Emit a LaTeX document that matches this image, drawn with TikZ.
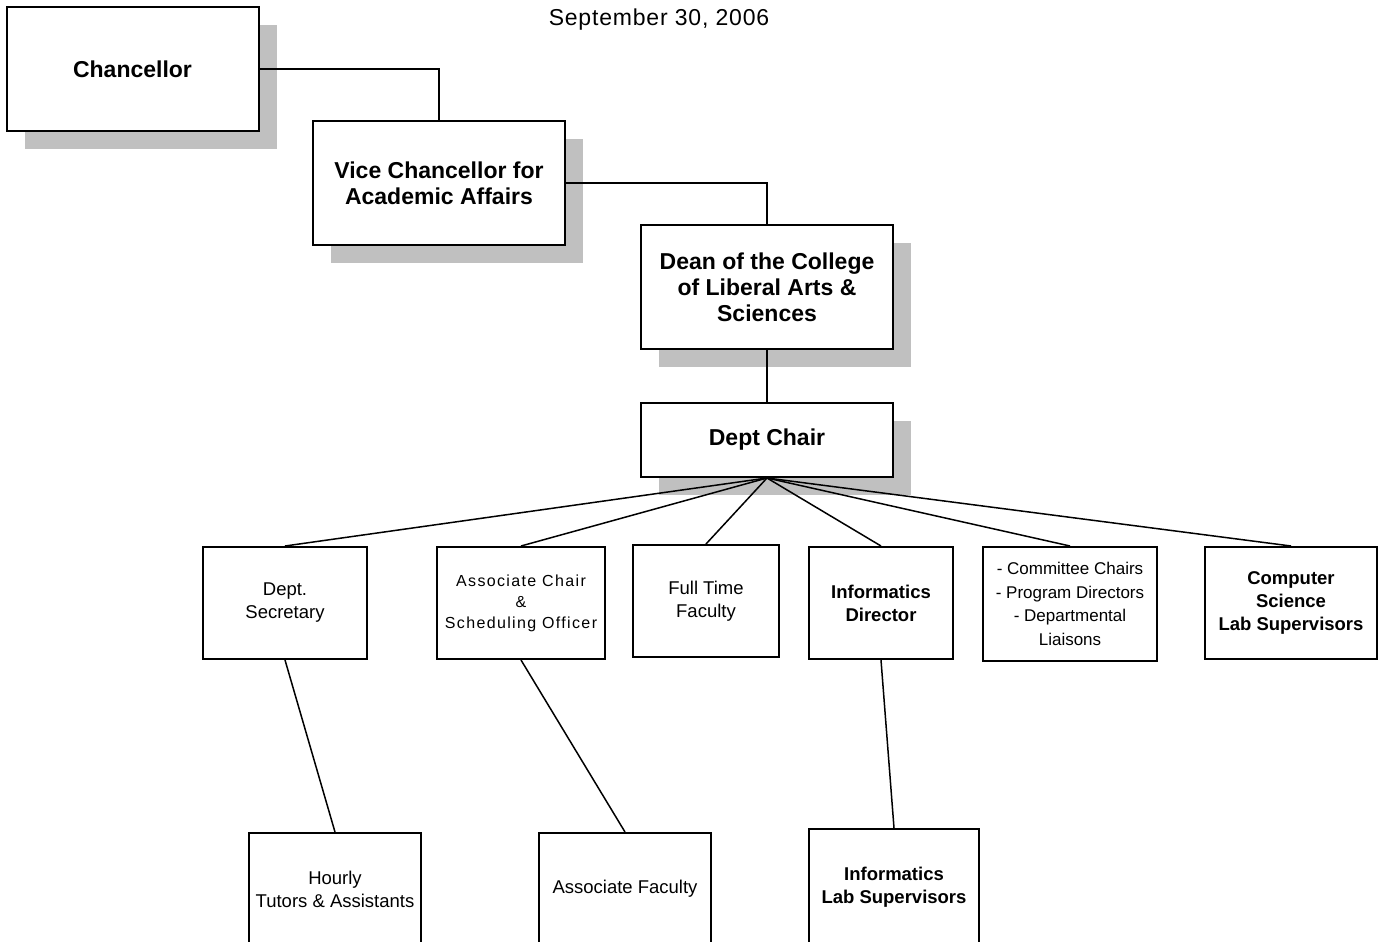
\documentclass[tikz,border=0pt]{standalone}
\usepackage{fontspec}
\setmainfont{Liberation Sans}
\usetikzlibrary{shadows}
\definecolor{shadegray}{HTML}{C0C0C0}

\begin{document}
\begin{tikzpicture}[x=0.5pt,y=-0.5pt]
\tikzset{box/.style = {draw, line width=1pt, fill=white, align=center, inner sep=0pt},
  head/.style = {box, minimum width=126pt, font=\fontsize{11.5}{13}\selectfont\bfseries,
    drop shadow={shadow xshift=9pt, shadow yshift=-9pt, fill=shadegray, opacity=1}},
  unit/.style = {box, minimum height=56pt, font=\fontsize{9.25}{11.5}\selectfont},
  unitbf/.style = {unit, font=\fontsize{9.25}{11.5}\selectfont\bfseries},
  edge/.style = {line width=0.75pt}}
\useasboundingbox (0,0) rectangle (1382,942);

\node (date) at (659,20) {\fontsize{11.5}{13}\selectfont\addfontfeature{LetterSpace=3.5}September 30, 2006};

\node[head, minimum height=62pt] (chan) at (132.5,69) {Chancellor};
\node[head, minimum height=62pt] (vc) at (439,183) {Vice Chancellor for\\Academic Affairs};
\node[head, minimum height=62pt] (dean) at (767,287) {Dean of the College\\ of Liberal Arts \&\\Sciences};
\node[head, minimum height=37pt] (chair) at (767,440) {Dept Chair};

\node[unit, minimum width=82pt] (sec) at (285,603) {Dept.\\Secretary};
\node[unit, minimum width=84pt, font=\fontsize{8}{10.5}\selectfont\addfontfeature{LetterSpace=8.5}] (assoc) at (521,603) {Associate Chair\\\&\\Scheduling Officer};
\node[unit, minimum width=73pt] (full) at (706,601) {Full Time\\Faculty};
\node[unitbf, minimum width=72pt] (infodir) at (881,603) {Informatics\\Director};
\node[unit, minimum width=87pt, minimum height=57pt, font=\fontsize{8.5}{11.75}\selectfont] (comm) at (1070,604) {- Committee Chairs\\- Program Directors\\- Departmental\\Liaisons};
\node[unitbf, minimum width=86pt] (cslab) at (1291,603) {Computer\\Science\\Lab Supervisors};

\node[unit, minimum width=86pt] (hourly) at (335,889) {Hourly\\Tutors \& Assistants};
\node[unit, minimum width=86pt] (assocfac) at (625,889) {Associate Faculty};
\node[unitbf, minimum width=85pt, minimum height=58pt] (infolab) at (894,887) {Informatics\\Lab Supervisors};

\draw[edge] (chan.east) -| (vc.north);
\draw[edge] (vc.east) -| (dean.north);
\draw[edge] (dean.south) -- (chair.north);
\foreach \n in {sec,assoc,full,infodir,comm,cslab}
  \draw[edge] (chair.south) -- (\n.north);
\draw[edge] (sec.south) -- (hourly.north);
\draw[edge] (assoc.south) -- (assocfac.north);
\draw[edge] (infodir.south) -- (infolab.north);
\end{tikzpicture}
\end{document}
